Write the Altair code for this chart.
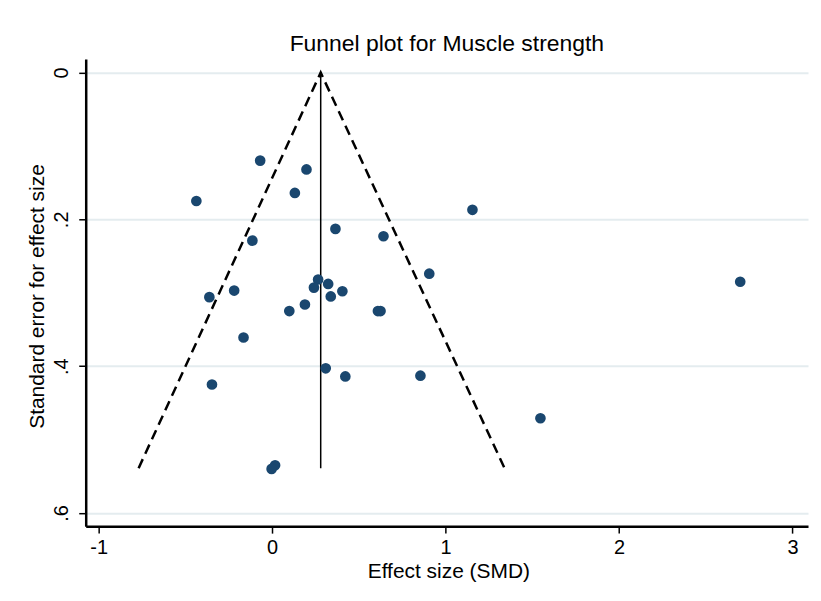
import altair as alt
import pandas as pd

# Study effect sizes (SMD) and standard errors
effect = [-0.069, 0.198, 0.131, -0.437, 1.155, 0.365, 0.642, -0.114, 0.906, 0.265,
          0.323, 0.241, -0.219, -0.362, 0.405, 0.338, 0.189, 0.099, 0.610, 0.625,
          -0.165, 0.309, 0.422, 0.855, -0.347, 1.547, 0.017, -0.003, 2.699]
se = [0.120, 0.132, 0.164, 0.175, 0.187, 0.213, 0.223, 0.229, 0.274, 0.282,
      0.288, 0.293, 0.297, 0.306, 0.298, 0.305, 0.316, 0.325, 0.325, 0.325,
      0.361, 0.403, 0.414, 0.413, 0.425, 0.471, 0.535, 0.540, 0.285]

# Pseudo 95% confidence limits (funnel) and pooled estimate
funnel_x = [-0.77, 0.28, 1.34]
funnel_se = [0.539, 0.0, 0.539]
pooled = 0.28
pooled_se_max = 0.539

x_ticks = [-1, 0, 1, 2, 3]
x_tick_labels = ["-1", "0", "1", "2", "3"]
y_ticks = [0, 0.2, 0.4, 0.6]
y_tick_labels = ["0", ".2", ".4", ".6"]

FONT = "Liberation Sans, Arial, sans-serif"
NAVY = "#1a476f"

pts = pd.DataFrame({"effect": effect, "se": se})
fun = pd.DataFrame({"x": funnel_x, "se": funnel_se, "o": list(range(len(funnel_x)))})
vline = pd.DataFrame({"x": [pooled], "se0": [0.0], "se1": [pooled_se_max]})


def make_expr(vals, labels):
    return " : ".join(
        [f"abs(datum.value - ({v})) < 1e-6 ? '{l}'" for v, l in zip(vals, labels)]
    ) + " : ''"


xscale = alt.Scale(domain=[-1.075, 3.09], nice=False, zero=False)
yscale = alt.Scale(domain=[-0.0186, 0.618], reverse=True, nice=False, zero=False)

xaxis = alt.Axis(
    values=x_ticks, labelExpr=make_expr(x_ticks, x_tick_labels),
    title="Effect size (SMD)", grid=False,
    labelFontSize=20, titleFontSize=21, labelFont=FONT, titleFont=FONT,
    labelColor="#000", titleColor="#000", domainColor="#000", tickColor="#000",
    domainWidth=2.5, tickWidth=1.5, tickSize=7, labelPadding=4,
    titleFontWeight="normal", titleX=364, titleY=52, titleBaseline="alphabetic",
    labelFlush=False,
)
yaxis = alt.Axis(
    values=y_ticks, labelExpr=make_expr(y_ticks, y_tick_labels),
    title="Standard error for effect size",
    grid=True, gridColor="#e4ecef", gridWidth=2,
    labelFontSize=20, titleFontSize=21, labelFont=FONT, titleFont=FONT,
    labelColor="#000", titleColor="#000", domainColor="#000", tickColor="#000",
    domainWidth=2.5, tickWidth=1.5, tickSize=7, labelPadding=7,
    labelAngle=270, labelAlign="center", labelBaseline="bottom",
    titleFontWeight="normal", titleAngle=270, titleX=-42, titleY=238,
    titleAlign="center", titleBaseline="alphabetic", labelFlush=False,
)

points = alt.Chart(pts).mark_circle(size=115, color=NAVY, opacity=1).encode(
    x=alt.X("effect:Q", scale=xscale, axis=xaxis),
    y=alt.Y("se:Q", scale=yscale, axis=yaxis),
)

funnel = alt.Chart(fun).mark_line(color="#000", strokeWidth=2.5, strokeDash=[10, 6]).encode(
    x=alt.X("x:Q", scale=xscale),
    y=alt.Y("se:Q", scale=yscale),
    order="o:Q",
)

rule = alt.Chart(vline).mark_rule(color="#000", strokeWidth=1.5).encode(
    x=alt.X("x:Q", scale=xscale),
    y=alt.Y("se0:Q", scale=yscale),
    y2="se1:Q",
)

chart = alt.layer(rule, funnel, points).properties(
    width=725,
    height=469,
    title=alt.TitleParams(
        "Funnel plot for Muscle strength", font=FONT, fontSize=23,
        fontWeight="normal", color="#000", anchor="middle", offset=7,
        baseline="alphabetic", dy=22,
    ),
    autosize="none",
    padding={"left": 78, "top": 50, "right": 5, "bottom": 60},
    background="white",
).configure_view(strokeWidth=0)

chart.save("out.html", embed_options={"renderer": "svg", "actions": False})
